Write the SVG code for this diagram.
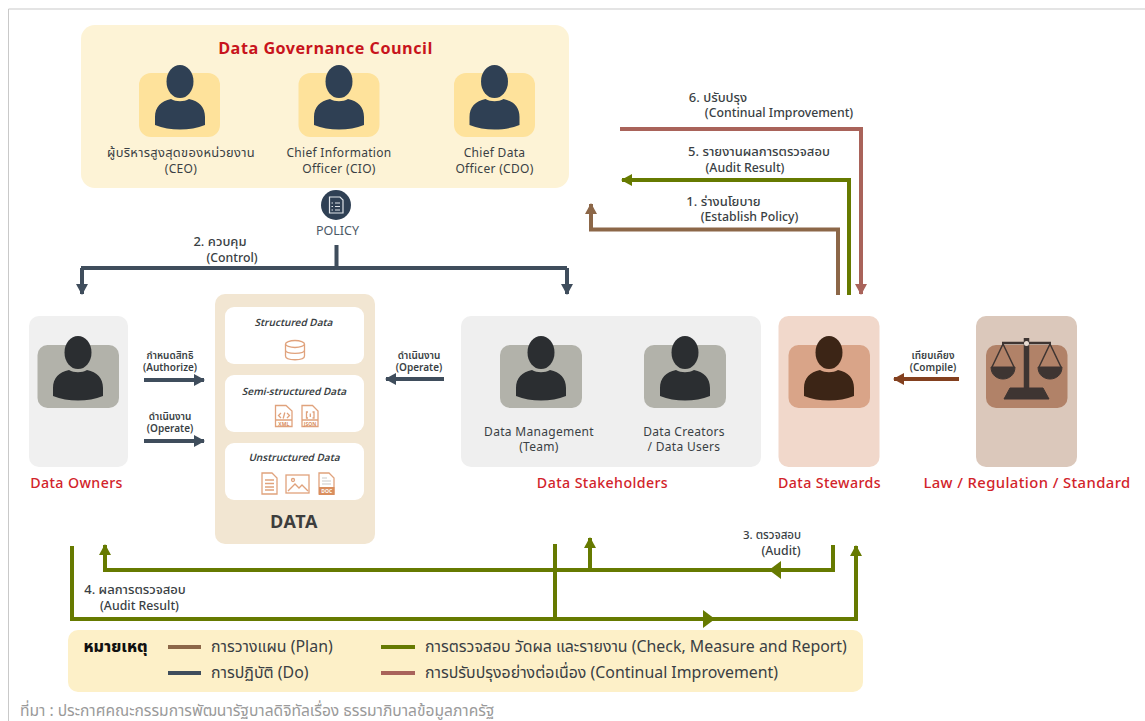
<svg xmlns="http://www.w3.org/2000/svg" width="1145" height="721" viewBox="0 0 1145 721">
<style>
text{font-family:"Noto Sans Thai","Noto Sans","Open Sans","DejaVu Sans",sans-serif;text-anchor:middle;fill:#3a3f44}
.lb{font-size:12px;letter-spacing:.3px}
.s{font-size:10px;font-weight:600}
.m{font-size:12.300px;font-weight:500}
.t{font-size:13px;font-weight:500}
.h{font-size:14.200px;fill:#d2232a;letter-spacing:.4px;font-weight:500}
.it{font-size:10px;font-style:italic;font-weight:600}
.lg{font-size:15.900px;text-anchor:start}
.ti{font-size:5px;font-weight:700;fill:#d98e5e}
.ln{fill:none;stroke-width:4}
.do{stroke:#3f4d5c}.chk{stroke:#667a00}.pl{stroke:#8c6748}.imp{stroke:#a9635a}
.ic{fill:none;stroke:#e0a27c;stroke-width:1.3}
</style>
<defs>
<symbol id="p" overflow="visible"><ellipse cx="0" cy="16.500" rx="13.500" ry="16.500"/><path d="M-9 34C-4 37 4 37 9 34C19 36 25 42 25 52V60C10 66-10 66-25 60V52C-25 42-19 36-9 34Z"/></symbol>
<marker id="md" markerUnits="userSpaceOnUse" markerWidth="12" markerHeight="12" refX="10" refY="6" orient="auto"><path d="M0 0L11 6L0 12Z" fill="#3f4d5c"/></marker>
<marker id="mc" markerUnits="userSpaceOnUse" markerWidth="12" markerHeight="12" refX="10" refY="6" orient="auto"><path d="M0 0L11 6L0 12Z" fill="#667a00"/></marker>
<marker id="mc2" markerUnits="userSpaceOnUse" markerWidth="13" markerHeight="18" refX="11" refY="9" orient="auto"><path d="M0 0L12 9L0 18Z" fill="#667a00"/></marker>
<marker id="mp" markerUnits="userSpaceOnUse" markerWidth="12" markerHeight="12" refX="10" refY="6" orient="auto"><path d="M0 0L11 6L0 12Z" fill="#8c6748"/></marker>
<marker id="mi" markerUnits="userSpaceOnUse" markerWidth="12" markerHeight="12" refX="10" refY="6" orient="auto"><path d="M0 0L11 6L0 12Z" fill="#a9635a"/></marker>
<marker id="mb" markerUnits="userSpaceOnUse" markerWidth="12" markerHeight="12" refX="10" refY="6" orient="auto"><path d="M0 0L11 6L0 12Z" fill="#83401f"/></marker>
</defs>
<rect width="1145" height="721" fill="#fff"/>
<path d="M1145 9H8.500V721" fill="none" stroke="#c9c9c9"/>

<g id="council">
<rect x="81" y="25" width="488" height="163" rx="14" fill="#fdf3d6"/>
<text x="325.500" y="54" style="font-size:16.200px;font-weight:700;fill:#c8141c;letter-spacing:.5px">Data Governance Council</text>
<rect x="139" y="73" width="81" height="64" rx="12" fill="#fee29b"/><use href="#p" x="180" y="65" fill="#2f4054"/>
<rect x="298.500" y="73" width="81" height="64" rx="12" fill="#fee29b"/><use href="#p" x="339" y="65" fill="#2f4054"/>
<rect x="454" y="73" width="81" height="64" rx="12" fill="#fee29b"/><use href="#p" x="494.500" y="65" fill="#2f4054"/>
<text class="lb" x="181" y="157"><tspan style="font-size:12.900px">ผู้บริหารสูงสุดของหน่วยงาน</tspan><tspan x="181" dy="15.500">(CEO)</tspan></text>
<text class="lb" x="339" y="157">Chief Information<tspan x="339" dy="15.500">Officer (CIO)</tspan></text>
<text class="lb" x="494.500" y="157">Chief Data<tspan x="494.500" dy="15.500">Officer (CDO)</tspan></text>
</g>
<g id="policy">
<circle cx="336" cy="205" r="15" fill="#2f4054"/>
<path d="M329.500 197H340L343 200V213H329.500Z" fill="none" stroke="#dfe3e8" stroke-width="1.200"/>
<path d="M335 203H340M335 206.500H340M335 210H340M331.500 203H333M331.500 206.500H333M331.500 210H333" stroke="#dfe3e8" fill="none"/>
<text x="337.500" y="235" style="font-size:12.500px;fill:#4b5966">POLICY</text>
</g>
<g id="owners">
<rect x="29" y="316" width="99" height="151" rx="10" fill="#f0f0f0"/>
<rect x="37.500" y="345" width="81.500" height="63" rx="10" fill="#b2b2aa"/>
<use href="#p" x="78" y="336" fill="#2b2e31"/>
<text class="h" x="76.500" y="488">Data Owners</text>
</g>
<g id="data">
<rect x="215" y="294" width="160" height="250" rx="10" fill="#f2e6d2"/>
<rect x="225" y="307" width="139" height="57" rx="9" fill="#fff"/>
<rect x="225" y="375" width="139" height="57" rx="9" fill="#fff"/>
<rect x="225" y="443" width="139" height="57" rx="9" fill="#fff"/>
<text class="it" x="293.500" y="326">Structured Data</text>
<text class="it" x="294" y="395">Semi-structured Data</text>
<text class="it" x="294" y="461">Unstructured Data</text>
<g class="ic">
<ellipse cx="295" cy="344" rx="9.500" ry="3.500"/><path d="M285.500 344V356C285.500 361 304.500 361 304.500 356V344M285.500 350C285.500 354.500 304.500 354.500 304.500 350"/>
<path d="M275.500 405.500H286L292 411V426.500H275.500ZM275.500 420H292"/><path d="M281 413L278.500 415.500L281 418M287 413L289.500 415.500L287 418M284.800 412.500L283.200 418.500"/>
<path d="M302 405.500H312.500L318 411V426.500H302ZM302 420H318"/><path d="M308 412H306.500V418H308M312.500 412H314V418H312.500M310.300 413.500V417"/>
<path d="M262 473H272L277 478V494H262ZM265 480H274M265 483.500H274M265 487H274M265 490H274"/>
<rect x="286" y="475" width="23" height="18"/><path d="M288 491L295 484L299 488L302 485L308 491"/><circle cx="293" cy="480" r="1.500"/>
<path d="M319 473H329L334 478V494H319Z"/>
</g>
<text class="ti" x="283.800" y="425.500">XML</text>
<text class="ti" x="310" y="425.500">JSON</text>
<rect x="319" y="487" width="15.500" height="8" fill="#d98e5e"/>
<text class="ti" x="326.800" y="493" style="fill:#fff">DOC</text>
<path d="M322 478H327M322 481H331M322 484H331" stroke="#c9c9c9"/>
<text x="294" y="528" style="font-size:18px;font-weight:700;letter-spacing:.6px;fill:#3d3d3d">DATA</text>
</g>
<g id="stakeholders">
<rect x="461" y="316" width="300" height="151" rx="10" fill="#efefef"/>
<rect x="500" y="345" width="82" height="63" rx="10" fill="#b2b2aa"/><use href="#p" x="541" y="336" fill="#2b2e31"/>
<rect x="644" y="345" width="82" height="63" rx="10" fill="#b2b2aa"/><use href="#p" x="685" y="336" fill="#2b2e31"/>
<text class="lb" x="539" y="436">Data Management<tspan x="539" dy="15">(Team)</tspan></text>
<text class="lb" x="684" y="436">Data Creators<tspan x="684" dy="15">/ Data Users</tspan></text>
<text class="h" x="602.500" y="488">Data Stakeholders</text>
</g>
<g id="stewards">
<rect x="778.500" y="316" width="101" height="151" rx="10" fill="#f1d8cb"/>
<rect x="788.500" y="345" width="81.500" height="63" rx="10" fill="#d9a488"/>
<use href="#p" x="829" y="336" fill="#3c2516"/>
<text class="h" x="829.500" y="488">Data Stewards</text>
</g>
<g id="law">
<rect x="976" y="316" width="101" height="151" rx="10" fill="#dbc8bb"/>
<rect x="986" y="345" width="81.500" height="63" rx="10" fill="#b18268"/>
<g fill="#3e3532" stroke="#3e3532">
<path d="M1002 343H1051" stroke-width="2.500" fill="none"/>
<path d="M1026.500 338V393" stroke-width="5.500"/>
<path d="M1003 344L992 367M1003 344L1014 367M1050 344L1039 367M1050 344L1061 367" stroke-width="1.500" fill="none"/>
<path d="M991 367H1015C1015 383 991 383 991 367ZM1038 367H1062C1062 383 1038 383 1038 367Z"/>
<path d="M1010 388H1043L1049 399H1004Z"/>
</g>
<circle cx="1026.500" cy="343.500" r="2.500" fill="#e8dcd2"/>
<text class="h" x="1027" y="488" style="font-size:14.800px">Law / Regulation / Standard</text>
</g>

<g id="connectors">
<path class="ln do" d="M336.500 245V268M81 268H567"/>
<path class="ln do" d="M82 268V294" marker-end="url(#md)"/>
<path class="ln do" d="M567 268V294" marker-end="url(#md)"/>
<path class="ln do" d="M144 380H204" marker-end="url(#md)"/>
<path class="ln do" d="M144 441H204" marker-end="url(#md)"/>
<path class="ln do" d="M444 379H386" marker-end="url(#md)"/>
<path class="ln" stroke="#83401f" d="M959 379H894" marker-end="url(#mb)"/>
<path class="ln pl" d="M838 295V229.500H591V204" marker-end="url(#mp)"/>
<path class="ln chk" d="M849 295V180H622" marker-end="url(#mc)"/>
<path class="ln imp" d="M620 129H861V294" marker-end="url(#mi)"/>
<path class="ln chk" d="M72 546V619H856V546" marker-end="url(#mc)"/>
<path class="ln chk" d="M555 544V619"/>
<path class="ln chk" d="M702 619H714" marker-end="url(#mc2)"/>
<path class="ln chk" d="M833 545V570H105V545" marker-end="url(#mc)"/>
<path class="ln chk" d="M590 570V538" marker-end="url(#mc)"/>
<path class="ln chk" d="M785 570H770" marker-end="url(#mc2)"/>
</g>
<g id="edge-labels">
<text class="t" x="220" y="246">2. ควบคุม<tspan class="m" x="232" dy="16">(Control)</tspan></text>
<text class="t" x="718" y="102">6. ปรับปรุง<tspan class="m" x="779" dy="15">(Continual Improvement)</tspan></text>
<text class="t" x="759" y="156">5. รายงานผลการตรวจสอบ<tspan class="m" x="745" dy="16">(Audit Result)</tspan></text>
<text class="t" x="723.500" y="206">1. ร่างนโยบาย<tspan class="m" x="749.500" dy="15">(Establish Policy)</tspan></text>
<text class="s" x="170" y="359">กำหนดสิทธิ<tspan x="170" dy="12">(Authorize)</tspan></text>
<text class="s" x="170" y="420">ดำเนินงาน<tspan x="170" dy="12">(Operate)</tspan></text>
<text class="s" x="419" y="359">ดำเนินงาน<tspan x="419" dy="12">(Operate)</tspan></text>
<text class="s" x="933" y="359">เทียบเคียง<tspan x="933" dy="12">(Compile)</tspan></text>
<text class="m" x="772" y="539" style="font-size:11.500px">3. ตรวจสอบ<tspan x="781" dy="16" style="font-size:12.300px">(Audit)</tspan></text>
<text class="t" x="135" y="594">4. ผลการตรวจสอบ<tspan class="m" x="139.500" dy="16">(Audit Result)</tspan></text>
</g>
<g id="legend">
<rect x="68" y="630" width="795" height="62" rx="10" fill="#fdf0c8"/>
<text x="115.500" y="652" style="font-size:16px;font-weight:800;fill:#111">หมายเหตุ</text>
<path class="ln pl" d="M168 647H201"/><path class="ln do" d="M168 673H201"/>
<path class="ln chk" d="M381 647H415"/><path class="ln imp" d="M381 673H415"/>
<text class="lg" x="211" y="652">การวางแผน (Plan)</text>
<text class="lg" x="211" y="678">การปฏิบัติ (Do)</text>
<text class="lg" x="425" y="652">การตรวจสอบ วัดผล และรายงาน (Check, Measure and Report)</text>
<text class="lg" x="425" y="678">การปรับปรุงอย่างต่อเนื่อง (Continual Improvement)</text>
</g>
<text id="source" x="20" y="716" style="font-size:15.600px;text-anchor:start;fill:#9a9a9a">ที่มา : ประกาศคณะกรรมการพัฒนารัฐบาลดิจิทัลเรื่อง ธรรมาภิบาลข้อมูลภาครัฐ</text>
</svg>
